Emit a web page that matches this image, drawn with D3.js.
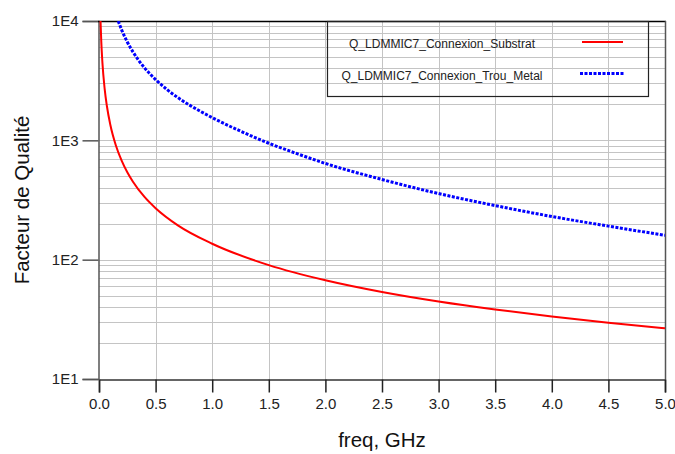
<!DOCTYPE html>
<html>
<head>
<meta charset="utf-8">
<script src="https://cdn.jsdelivr.net/npm/d3@7"></script>
<style>
  html, body { margin: 0; padding: 0; background: #fff; }
  svg { display: block; font-family: "Liberation Sans", Arial, sans-serif; }
</style>
</head>
<body>
<svg id="chart" width="675" height="454"></svg>
<script>
// Quality factor vs. frequency for two LDMMIC7 connection types
const freqSubstrat = [0.0135, 0.02, 0.03, 0.05, 0.07, 0.1, 0.15, 0.2, 0.25, 0.3, 0.4, 0.5, 0.7, 1.0, 1.5, 2.0, 2.5, 3.0, 3.5, 4.0, 4.5, 5.0];
const qSubstrat    = [10000, 6750, 4500, 2700, 1930, 1350, 900, 675, 540, 450, 337, 270, 193, 136, 90, 67.2, 53.6, 44.6, 38.2, 33.4, 29.6, 26.6];

const freqTrou = [0.17, 0.2, 0.25, 0.3, 0.4, 0.5, 0.6, 0.7, 0.8, 0.9, 1.0, 1.25, 1.5, 1.75, 2.0, 2.5, 3.0, 3.5, 4.0, 4.5, 5.0];
const qTrou    = [10000, 8430, 6670, 5510, 4075, 3230, 2667, 2270, 1972, 1742, 1550, 1194, 945, 773, 640, 470, 358, 284, 230, 191, 160];

const xTicks = [0, 0.5, 1.0, 1.5, 2.0, 2.5, 3.0, 3.5, 4.0, 4.5, 5.0];
const yTicks = [10, 100, 1000, 10000];
const yTickLabels = ["1E1", "1E2", "1E3", "1E4"];
const seriesNames = ["Q_LDMMIC7_Connexion_Substrat", "Q_LDMMIC7_Connexion_Trou_Metal"];

const svg = d3.select("#chart");
const plotL = 99, plotR = 665, plotT = 21, plotB = 379;

const x = d3.scaleLinear().domain([0, 5]).range([plotL, plotR]);
const y = d3.scaleLog().domain([10, 10000]).range([plotB, plotT]);

// grid
const minorY = [];
for (let p = 10; p < 10000; p *= 10) for (let m = 1; m <= 9; m++) minorY.push(p * m);
svg.append("g").selectAll("line").data(minorY.filter(v => v > 10)).join("line")
  .attr("x1", plotL).attr("x2", plotR)
  .attr("y1", d => Math.round(y(d)) + 0.5).attr("y2", d => Math.round(y(d)) + 0.5)
  .attr("stroke", "#c4c4c4").attr("stroke-width", 1);
svg.append("g").selectAll("line").data(xTicks.slice(1, -1)).join("line")
  .attr("x1", d => Math.round(x(d)) + 0.5).attr("x2", d => Math.round(x(d)) + 0.5)
  .attr("y1", plotT).attr("y2", plotB)
  .attr("stroke", "#c4c4c4").attr("stroke-width", 1);

// axes
const xAxis = svg.append("g").attr("transform", `translate(0,${plotB + 0.5})`)
  .call(d3.axisBottom(x).tickValues(xTicks).tickFormat(d3.format(".1f")).tickSize(13).tickPadding(6));
xAxis.select(".domain").attr("stroke", "#333").attr("stroke-width", 1.5);
xAxis.selectAll(".tick line").attr("stroke", "#222").attr("stroke-width", 1.5);
xAxis.selectAll("text").attr("font-size", 15).attr("fill", "#222")
  .attr("font-family", "'Liberation Sans', Arial, sans-serif");

const yAxis = svg.append("g").attr("transform", `translate(${plotL - 0.5},0)`)
  .call(d3.axisLeft(y).tickValues(yTicks).tickFormat((d, i) => yTickLabels[i]).tickSize(16).tickPadding(4));
yAxis.select(".domain").attr("stroke", "#555").attr("stroke-width", 1.5);
yAxis.selectAll(".tick line").attr("stroke", "#555").attr("stroke-width", 1.5);
yAxis.selectAll("text").attr("font-size", 15).attr("fill", "#222")
  .attr("font-family", "'Liberation Sans', Arial, sans-serif");

// top and right border
svg.append("line").attr("x1", plotL - 1).attr("x2", plotR + 1).attr("y1", plotT + 0.5).attr("y2", plotT + 0.5)
  .attr("stroke", "#000").attr("stroke-width", 1.5);
svg.append("line").attr("x1", plotR + 0.5).attr("x2", plotR + 0.5).attr("y1", plotT).attr("y2", plotB)
  .attr("stroke", "#555").attr("stroke-width", 1.5);

// curves
svg.append("clipPath").attr("id", "plotClip").append("rect")
  .attr("x", plotL).attr("y", plotT).attr("width", plotR - plotL).attr("height", plotB - plotT);

const line = d3.line().x(d => x(d[0])).y(d => y(d[1])).curve(d3.curveMonotoneX);
const plot = svg.append("g").attr("clip-path", "url(#plotClip)");
plot.append("path").datum(d3.zip(freqSubstrat, qSubstrat))
  .attr("d", line).attr("fill", "none").attr("stroke", "#ff0000").attr("stroke-width", 2);
plot.append("path").datum(d3.zip(freqTrou, qTrou))
  .attr("d", line).attr("fill", "none").attr("stroke", "#0000ff").attr("stroke-width", 3)
  .attr("stroke-dasharray", "3,1.5");

// legend
const lg = svg.append("g");
lg.append("rect").attr("x", 327.5).attr("y", 21.5).attr("width", 321).attr("height", 75)
  .attr("fill", "none").attr("stroke", "#222").attr("stroke-width", 1.2);
lg.append("text").attr("x", 442).attr("y", 48).attr("text-anchor", "middle")
  .attr("font-size", 12).attr("fill", "#222").attr("textLength", 186).attr("lengthAdjust", "spacing")
  .text(seriesNames[0]);
lg.append("text").attr("x", 442).attr("y", 79.5).attr("text-anchor", "middle")
  .attr("font-size", 12).attr("fill", "#222").attr("textLength", 201).attr("lengthAdjust", "spacing")
  .text(seriesNames[1]);
lg.append("line").attr("x1", 582).attr("x2", 623).attr("y1", 42).attr("y2", 42)
  .attr("stroke", "#ff0000").attr("stroke-width", 2);
lg.append("line").attr("x1", 580).attr("x2", 624).attr("y1", 73.5).attr("y2", 73.5)
  .attr("stroke", "#0000ff").attr("stroke-width", 3).attr("stroke-dasharray", "3,1.5");

// axis titles
svg.append("text").attr("x", 382).attr("y", 447).attr("text-anchor", "middle")
  .attr("font-size", 20.5).attr("fill", "#111").text("freq, GHz");
svg.append("text").attr("transform", "translate(29,200) rotate(-90)").attr("text-anchor", "middle")
  .attr("font-size", 20.5).attr("fill", "#111").text("Facteur de Qualité");
</script>
</body>
</html>
